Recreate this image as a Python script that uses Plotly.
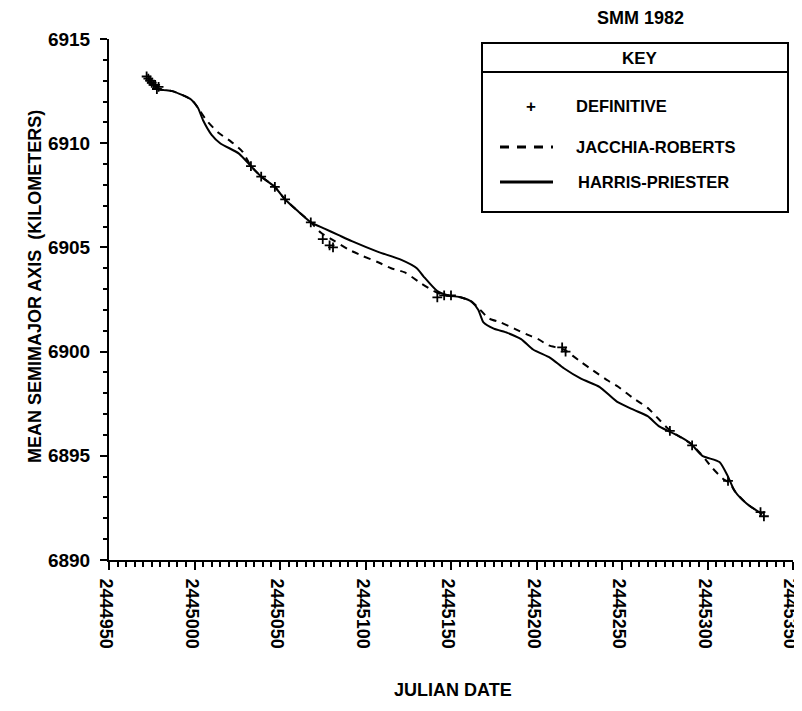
import plotly.graph_objects as go

# Harris-Priester (solid)
hp_jd = [2444973, 2444979, 2444987, 2444998, 2445002, 2445005, 2445010, 2445015, 2445026, 2445033,
         2445039, 2445047, 2445053, 2445061, 2445068, 2445076, 2445084, 2445092, 2445107, 2445121,
         2445130, 2445134, 2445142, 2445148, 2445156, 2445162, 2445166, 2445169, 2445175, 2445183,
         2445191, 2445198, 2445208, 2445216, 2445226, 2445237, 2445247, 2445257, 2445265, 2445272,
         2445282, 2445290, 2445297, 2445307, 2445312, 2445316, 2445323, 2445332]
hp_a = [6913.1, 6912.6, 6912.5, 6912.1, 6911.7, 6911.1, 6910.4, 6910.0, 6909.5, 6908.9,
        6908.4, 6907.9, 6907.3, 6906.7, 6906.2, 6905.9, 6905.6, 6905.3, 6904.8, 6904.4,
        6904.0, 6903.6, 6902.9, 6902.7, 6902.6, 6902.4, 6902.0, 6901.4, 6901.1, 6900.9,
        6900.6, 6900.1, 6899.7, 6899.2, 6898.7, 6898.3, 6897.6, 6897.2, 6896.9, 6896.4,
        6896.0, 6895.6, 6895.0, 6894.7, 6894.0, 6893.3, 6892.7, 6892.2]

# Jacchia-Roberts (dashed)
jr_jd = [2444973, 2444979, 2444987, 2444998, 2445002, 2445007, 2445014, 2445021, 2445028, 2445033,
         2445039, 2445047, 2445053, 2445061, 2445068, 2445074, 2445082, 2445090, 2445098, 2445107,
         2445115, 2445123, 2445132, 2445140, 2445146, 2445156, 2445162, 2445166, 2445172, 2445179,
         2445187, 2445195, 2445201, 2445207, 2445216, 2445226, 2445233, 2445242, 2445248, 2445256,
         2445265, 2445271, 2445277, 2445282, 2445290, 2445296, 2445299, 2445303, 2445309, 2445313,
         2445316, 2445323, 2445332]
jr_a = [6913.1, 6912.6, 6912.5, 6912.1, 6911.7, 6911.1, 6910.5, 6910.1, 6909.6, 6908.9,
        6908.4, 6907.9, 6907.3, 6906.7, 6906.2, 6905.7, 6905.3, 6904.9, 6904.6, 6904.3,
        6904.0, 6903.8, 6903.3, 6902.9, 6902.7, 6902.6, 6902.4, 6902.1, 6901.6, 6901.4,
        6901.1, 6900.8, 6900.6, 6900.3, 6900.1, 6899.5, 6899.1, 6898.6, 6898.3, 6897.8,
        6897.3, 6896.8, 6896.3, 6896.0, 6895.6, 6895.1, 6894.8, 6894.4, 6893.9, 6893.7,
        6893.3, 6892.7, 6892.2]

# definitive orbit points
def_jd = [2444972, 2444973, 2444974, 2444975, 2444976, 2444977, 2444978, 2444979,
          2445033, 2445039, 2445047, 2445053, 2445068, 2445075, 2445079, 2445081,
          2445142, 2445146, 2445150, 2445215, 2445217, 2445278, 2445291, 2445312,
          2445331, 2445333]
def_a = [6913.2, 6913.1, 6913.0, 6912.9, 6912.8, 6912.8, 6912.6, 6912.7,
         6908.9, 6908.4, 6907.9, 6907.3, 6906.2, 6905.4, 6905.1, 6905.0,
         6902.6, 6902.7, 6902.7, 6900.2, 6900.0, 6896.2, 6895.5, 6893.8,
         6892.3, 6892.1]

FONT = "Liberation Sans, Arial, sans-serif"
OFF = 8  # page body margin
W, H = 802 - OFF, 711 - OFF
L, T = 109 - OFF, 39 - OFF
R, B = W - (793 - OFF), H - (560 - OFF)
PW, PH = W - L - R, H - T - B


# page pixel -> paper coords
def px(x):
    return (x - OFF - L) / PW


def py(y):
    return (H - B - (y - OFF)) / PH


fig = go.Figure()
fig.add_trace(go.Scatter(x=hp_jd, y=hp_a, mode="lines",
                         line=dict(color="black", width=2, shape="spline", smoothing=0.6)))
fig.add_trace(go.Scatter(x=jr_jd, y=jr_a, mode="lines",
                         line=dict(color="black", width=2, dash="7px,6px", shape="spline", smoothing=0.6)))
fig.add_trace(go.Scatter(x=def_jd, y=def_a, mode="markers",
                         marker=dict(symbol="cross-thin", size=7, line=dict(color="black", width=1.8))))

tickfont = dict(family=FONT, size=19, color="black", weight="bold")
fig.update_xaxes(range=[2444950, 2445350], tickvals=list(range(2444950, 2445351, 50)),
                 tickformat="d", tickangle=90, tickfont=dict(tickfont, size=18), ticklabelstandoff=5,
                 ticklabelshift=-3, ticklabeloverflow="allow", automargin=False,
                 ticks="outside", ticklen=8, tickwidth=2,
                 tickcolor="black", showline=True, linecolor="black", linewidth=2,
                 showgrid=False, zeroline=False,
                 minor=dict(dtick=5, tick0=2444950, ticks="outside", ticklen=5, tickwidth=1.5,
                            tickcolor="black", showgrid=False))
fig.update_yaxes(range=[6890, 6915], dtick=5, tickformat="d", tickfont=tickfont, automargin=False,
                 ticklabelstandoff=6, ticks="outside", ticklen=7, tickwidth=2, tickcolor="black",
                 showline=True, linecolor="black", linewidth=2, showgrid=False, zeroline=False,
                 minor=dict(dtick=1, ticks="outside", ticklen=4, tickwidth=1.5, tickcolor="black",
                            showgrid=False))

lab = dict(family=FONT, size=18, color="black", weight="bold")
key = dict(family=FONT, size=16.5, color="black", weight="bold")
ann = [
    dict(text="SMM 1982", x=px(640), y=py(18), font=lab, xanchor="center", yanchor="middle"),
    dict(text="JULIAN DATE", x=px(453), y=py(690), font=lab, xanchor="center", yanchor="middle"),
    dict(text="MEAN SEMIMAJOR AXIS  (KILOMETERS)", x=px(35), y=py(287), textangle=-90,
         font=lab, xanchor="center", yanchor="middle"),
    dict(text="KEY", x=px(640), y=py(58), font=dict(key, size=17), xanchor="center", yanchor="middle"),
    dict(text="+", x=px(531), y=py(106), font=dict(key, size=17),
         xanchor="center", yanchor="middle"),
    dict(text="DEFINITIVE", x=px(574), y=py(106), font=key, xanchor="left", yanchor="middle"),
    dict(text="JACCHIA-ROBERTS", x=px(574), y=py(147), font=key, xanchor="left", yanchor="middle"),
    dict(text="HARRIS-PRIESTER", x=px(576), y=py(182), font=key, xanchor="left", yanchor="middle"),
]
for a in ann:
    a.update(xref="paper", yref="paper", showarrow=False)

shapes = [
    dict(type="rect", x0=px(482), x1=px(788), y0=py(212), y1=py(43),
         line=dict(color="black", width=2), fillcolor="white", layer="above"),
    dict(type="line", x0=px(482), x1=px(788), y0=py(72), y1=py(72), line=dict(color="black", width=2)),
    dict(type="line", x0=px(500), x1=px(553), y0=py(147), y1=py(147),
         line=dict(color="black", width=3, dash="9px,8px")),
    dict(type="line", x0=px(500), x1=px(553), y0=py(182), y1=py(182), line=dict(color="black", width=3)),
]
for s in shapes:
    s.update(xref="paper", yref="paper")

fig.update_layout(width=W, height=H, margin=dict(l=L, r=R, t=T, b=B),
                  paper_bgcolor="white", plot_bgcolor="white", showlegend=False,
                  font=dict(family=FONT, color="black"), annotations=ann, shapes=shapes)

fig.write_html("out.html")
